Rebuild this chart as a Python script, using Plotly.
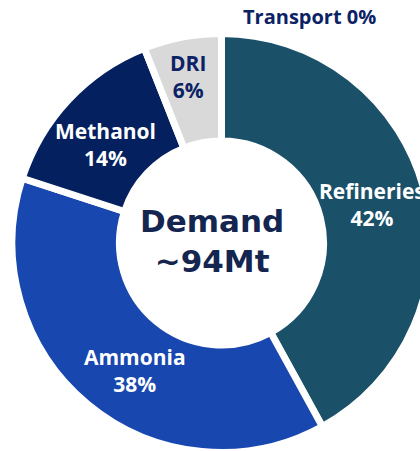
import math
import plotly.graph_objects as go

categories = ["Refineries", "Ammonia", "Methanol", "DRI", "Transport"]
shares = [42, 38, 14, 6, 0]
colors = ["#1A5068", "#1747AF", "#04205E", "#D9D9D9", "#D9D9D9"]
text_colors = ["#FFFFFF", "#FFFFFF", "#FFFFFF", "#0B2265", "#0B2265"]
center_title = "Demand<br>~94Mt"

# figure is a little wider than the 420px window so the ring is cut at the right edge
W, H = 432, 453
cx, cy, R = 221.5, 243, 209.5          # ring centre / outer radius in pixels
text_r = 155                            # radius of slice labels
label_nudge = {"Ammonia": (12, 8), "Methanol": (-3, 8), "DRI": (-4, -14)}

keep = [i for i, v in enumerate(shares) if v > 0]

fig = go.Figure(go.Pie(
    labels=[categories[i] for i in keep],
    values=[shares[i] for i in keep],
    sort=False,
    direction="clockwise",
    rotation=0,
    hole=0.487,
    marker=dict(colors=[colors[i] for i in keep], line=dict(color="white", width=7)),
    textinfo="none",
    showlegend=False,
    hoverinfo="label+percent",
    domain=dict(x=[(cx - R) / W, (cx + R) / W], y=[1 - (cy + R) / H, 1 - (cy - R) / H]),
))

# slice labels at each slice's mid-angle (clockwise from 12 o'clock)
total = sum(shares)
cum = 0
for i, v in enumerate(shares):
    if v > 0:
        mid = (cum + v / 2) / total * 2 * math.pi
        dx, dy = label_nudge.get(categories[i], (0, 0))
        px = cx + text_r * math.sin(mid) + dx
        py = cy - text_r * math.cos(mid) + dy
        fig.add_annotation(
            x=px / W, y=1 - py / H, xref="paper", yref="paper",
            xanchor="center", yanchor="middle",
            text=f"<b>{categories[i]}<br>{v}%</b>", showarrow=False,
            font=dict(family="Open Sans", size=21, color=text_colors[i]),
        )
    cum += v

fig.add_annotation(
    x=212 / W, y=1 - 241 / H, xref="paper", yref="paper",
    xanchor="center", yanchor="middle",
    text="<b>" + center_title + "</b>", showarrow=False,
    font=dict(family="DejaVu Sans", size=31, color="#14254F"),
)

# zero-share category labelled above the ring
for i, v in enumerate(shares):
    if v == 0:
        fig.add_annotation(
            x=309 / W, y=1 - 17 / H, xref="paper", yref="paper",
            xanchor="center", yanchor="middle",
            text=f"<b>{categories[i]} {v}%</b>", showarrow=False,
            font=dict(family="Open Sans", size=20, color="#0B2265"),
        )

fig.update_layout(
    width=W, height=H,
    margin=dict(l=0, r=0, t=0, b=0),
    paper_bgcolor="white",
)

fig.write_html(
    "out.html",
    config={"displayModeBar": False},
    post_script="document.body.style.margin='0';"
                "document.body.style.overflow='hidden';"
                "document.documentElement.style.overflow='hidden';",
)
